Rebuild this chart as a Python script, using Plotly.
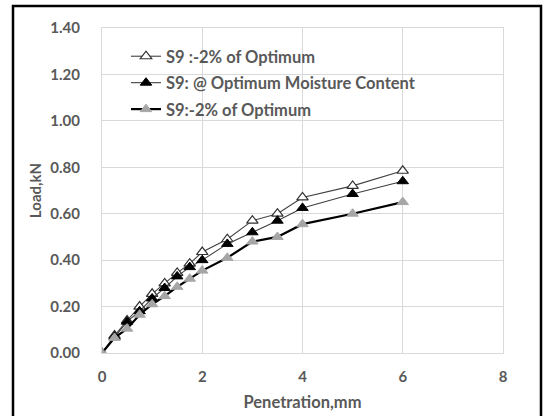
import plotly.graph_objects as go

penetration = [0, 0.25, 0.5, 0.75, 1.0, 1.25, 1.5, 1.75, 2.0, 2.5, 3.0, 3.5, 4.0, 5.0, 6.0]
load_minus2_a = [0, 0.075, 0.14, 0.20, 0.255, 0.30, 0.345, 0.385, 0.435, 0.49, 0.57, 0.60, 0.67, 0.72, 0.785]
load_optimum = [0, 0.07, 0.135, 0.18, 0.235, 0.28, 0.33, 0.37, 0.40, 0.47, 0.52, 0.57, 0.625, 0.685, 0.74]
load_minus2_b = [0, 0.065, 0.105, 0.165, 0.21, 0.245, 0.285, 0.32, 0.355, 0.41, 0.48, 0.50, 0.555, 0.60, 0.65]

names = ["S9 :-2% of Optimum", "S9: @ Optimum Moisture Content", "S9:-2% of Optimum"]

TXT = "#595959"
GRID = "#D9D9D9"
FONT = "Lato"

fig = go.Figure()
fig.add_trace(go.Scatter(
    x=penetration, y=load_minus2_a, name=names[0], mode="lines+markers", legendgroup="a",
    line=dict(color="#404040", width=1.1),
    marker=dict(symbol="triangle-up", size=10, color="white", line=dict(color="#303030", width=1.2)),
))
fig.add_trace(go.Scatter(
    x=penetration, y=load_optimum, name=names[1], mode="lines+markers", legendgroup="b",
    line=dict(color="#404040", width=1.1),
    marker=dict(symbol="triangle-up", size=10, color="black", line=dict(color="black", width=1)),
))
fig.add_trace(go.Scatter(
    x=penetration, y=load_minus2_b, name=names[2], mode="lines+markers", legendgroup="c",
    line=dict(color="black", width=2.2),
    marker=dict(symbol="triangle-up", size=10, color="#A6A6A6", line=dict(color="#A6A6A6", width=1)),
))

L, R, T, B = 102, 41, 28, 63
W, H = 544, 416
pw, ph = W - L - R, H - T - B

def px(x):
    return (x - L) / pw

def py(y):
    return (H - B - y) / ph

fig.update_layout(
    width=W, height=H,
    margin=dict(l=L, r=R, t=T, b=B, autoexpand=False),
    paper_bgcolor="white", plot_bgcolor="white",
    font=dict(family=FONT, size=15, color=TXT),
    showlegend=True,
    legend=dict(
        x=px(126), y=py(39), xanchor="left", yanchor="top",
        bgcolor="rgba(0,0,0,0)", tracegroupgap=2,
        font=dict(family=FONT, size=16.5, color=TXT, weight="bold"),
    ),
    xaxis=dict(
        range=[0, 8], tickvals=[0, 2, 4, 6, 8], ticktext=["0", "2", "4", "6", "8"],
        showgrid=True, gridcolor=GRID, gridwidth=1, automargin=False,
        zeroline=False, showline=True, mirror=True, linecolor=GRID, linewidth=1,
        ticks="", ticklabelstandoff=10,
        tickfont=dict(family=FONT, size=15, color=TXT, weight="bold"),
        title=dict(text="Penetration,mm", standoff=12,
                   font=dict(family=FONT, size=16.5, color=TXT, weight="bold")),
    ),
    yaxis=dict(
        range=[0, 1.4], tickvals=[0, 0.2, 0.4, 0.6, 0.8, 1.0, 1.2, 1.4],
        ticktext=["0.00", "0.20", "0.40", "0.60", "0.80", "1.00", "1.20", "1.40"],
        showgrid=True, gridcolor=GRID, gridwidth=1, automargin=False,
        zeroline=False, showline=True, mirror=True, linecolor=GRID, linewidth=1,
        ticks="", ticklabelstandoff=18,
        tickfont=dict(family=FONT, size=15, color=TXT, weight="bold"),
        title=dict(text="Load,kN", standoff=5,
                   font=dict(family=FONT, size=15, color=TXT, weight="bold")),
    ),
    shapes=[dict(
        type="rect", xref="paper", yref="paper",
        x0=px(13), x1=px(541), y0=py(420), y1=py(6),
        line=dict(color="black", width=2.5), fillcolor="rgba(0,0,0,0)", layer="above",
    )],
)

fig.write_html("out.html")
